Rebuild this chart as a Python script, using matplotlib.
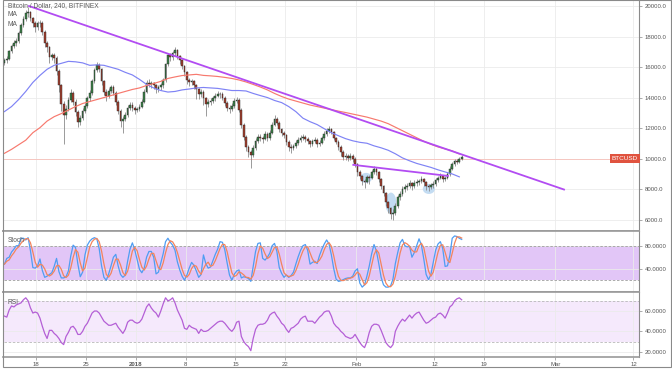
import numpy as np
import pandas as pd
import matplotlib
matplotlib.use("Agg")
import matplotlib.pyplot as plt
import matplotlib.dates as mdates
import matplotlib.transforms as mtransforms
from matplotlib.patches import Rectangle, Ellipse

W, H = 672, 372
plt.rcParams['font.family'] = ['Liberation Sans', 'DejaVu Sans']

# BTC/USD, Bitfinex, 8h candles
candle_start = "2017-12-13 12:00"
first_open = 16300
closes = [16450, 16510, 17040, 17370, 17570, 17700, 18220, 18750, 19150, 19540,
          19600, 19210, 18880, 18620, 18880, 18900, 18290, 17570, 17300, 16640,
          16780, 16580, 15720, 14800, 13620, 12890, 13290, 13880, 14340, 13750,
          13090, 12430, 12700, 13160, 13490, 13950, 14340, 15070, 15790, 16120,
          15860, 15070, 14400, 14080, 14470, 14670, 14340, 13750, 13160, 12500,
          12630, 12890, 13350, 13550, 13350, 13220, 13250, 13420, 13750, 14400,
          14990, 14870, 14930, 14800, 14600, 14670, 14800, 15130, 16180, 16780,
          16640, 16910, 17110, 16710, 16450, 16050, 15660, 15130, 15000, 15070,
          14800, 14540, 14210, 14400, 13950, 13620, 13750, 13810, 13950, 14140,
          14270, 14210, 14010, 13680, 13350, 13290, 13490, 13810, 13880, 13220,
          12240, 11450, 10790, 10460, 10260, 10720, 11180, 11450, 11380, 11310,
          11640, 11380, 11710, 12240, 12630, 12370, 11970, 11710, 11580, 11120,
          10790, 10720, 10850, 11050, 11250, 11380, 11420, 11310, 11180, 10990,
          11180, 11250, 10990, 11050, 11380, 11640, 11840, 11970, 11780, 11380,
          11120, 10790, 10460, 10130, 10200, 10070, 10200, 10000, 9670, 9140,
          8880, 8550, 8500, 8810, 8750, 9140, 9340, 9140, 8680, 8220,
          7760, 7170, 6770, 6380, 6450, 6910, 7500, 7700, 8030, 8160,
          8220, 8420, 8220, 8420, 8480, 8540, 8680, 8480, 8220, 8160,
          8290, 8350, 8620, 8750, 8880, 8680, 8750, 9010, 9340, 9670,
          9870, 9800, 10000, 10130]
highs = [16600, 16700, 17150, 17500, 17750, 17900, 18350, 18900, 19350, 19750,
         19950, 19700, 19300, 19000, 19050, 19100, 19000, 18400, 17700, 17400,
         16950, 16900, 16700, 15850, 14900, 13800, 13500, 14050, 14600, 14450,
         13900, 13200, 12900, 13300, 13650, 14100, 14500, 15250, 15950, 16350,
         16250, 15950, 15150, 14550, 14650, 14850, 14800, 14450, 13850, 13250,
         12800, 13050, 13500, 13750, 13700, 13450, 13400, 13600, 13900, 14550,
         15150, 15200, 15100, 15050, 14900, 14850, 14950, 15300, 16300, 16950,
         16900, 17050, 17300, 17200, 16800, 16550, 16150, 15750, 15300, 15250,
         15150, 14900, 14650, 14550, 14500, 14050, 13900, 14000, 14100, 14300,
         14450, 14400, 14350, 14100, 13800, 13500, 13650, 13950, 14050, 13950,
         13300, 12350, 11550, 10900, 10600, 10900, 11350, 11650, 11600, 11500,
         11800, 11750, 11900, 12400, 12850, 12750, 12450, 12050, 11800, 11650,
         11200, 10950, 11000, 11200, 11400, 11550, 11600, 11550, 11400, 11250,
         11300, 11400, 11350, 11200, 11500, 11800, 12000, 12150, 12050, 11850,
         11450, 11200, 10900, 10550, 10350, 10300, 10400, 10300, 10100, 9750,
         9250, 8950, 8700, 8950, 8950, 9300, 9500, 9450, 9200, 8750,
         8300, 7850, 7250, 6850, 6700, 7100, 7650, 7900, 8200, 8350,
         8400, 8600, 8500, 8600, 8650, 8700, 8850, 8750, 8550, 8350,
         8450, 8550, 8750, 8900, 9050, 8950, 8900, 9150, 9500, 9800,
         10000, 10000, 10150, 10250]
lows = [16150, 16300, 16450, 16950, 17250, 17400, 17600, 18100, 18650, 19050,
        19300, 19000, 18600, 18300, 18450, 18650, 18100, 17300, 17000, 16300,
        16450, 16300, 15500, 14400, 13100, 11000, 12600, 13100, 13700, 13500,
        12800, 12100, 12200, 12550, 13000, 13350, 13800, 14200, 14950, 15650,
        15650, 14850, 14200, 13800, 13950, 14300, 14150, 13550, 12950, 12100,
        11700, 12450, 12750, 13200, 13150, 12950, 13050, 13100, 13300, 13650,
        14300, 14700, 14650, 14550, 14300, 14400, 14500, 14650, 15050, 16050,
        16400, 16500, 16750, 16550, 16200, 15850, 15450, 14900, 14750, 14800,
        14600, 13900, 13900, 14050, 13500, 12800, 13400, 13500, 13650, 13800,
        14050, 14000, 13850, 13450, 13100, 13000, 13150, 13350, 13650, 13050,
        12050, 11200, 10500, 10100, 9400, 10100, 10600, 11050, 11150, 11050,
        11200, 11150, 11250, 11600, 12150, 12200, 11750, 11500, 11350, 10900,
        10500, 10350, 10550, 10700, 10900, 11100, 11200, 11100, 11000, 10750,
        10850, 11050, 10800, 10850, 10950, 11250, 11500, 11700, 11600, 11200,
        10950, 10600, 10200, 9950, 9900, 9850, 9950, 9800, 9450, 8900,
        8650, 8300, 8100, 8400, 8350, 8650, 9000, 8950, 8500, 8000,
        7550, 6900, 6450, 6050, 5980, 6350, 6800, 7300, 7550, 7850,
        7950, 8100, 7950, 8100, 8250, 8300, 8400, 8250, 7950, 7900,
        8000, 8100, 8250, 8500, 8650, 8500, 8550, 8650, 8900, 9250,
        9550, 9650, 9700, 9900]

# oscillators on the same 8h grid
stoch_k = [48, 58, 60, 69, 74, 80, 80, 93, 93, 90,
           94, 71, 42, 41, 45, 57, 37, 25, 27, 30,
           33, 44, 58, 35, 24, 24, 26, 36, 62, 81,
           77, 48, 26, 34, 64, 81, 88, 92, 94, 92,
           75, 45, 25, 20, 31, 45, 60, 65, 45, 30,
           25, 29, 53, 74, 85, 73, 56, 39, 33, 41,
           60, 70, 70, 60, 31, 34, 50, 66, 87, 93,
           86, 81, 72, 52, 38, 27, 20, 29, 41, 51,
           46, 36, 25, 30, 64, 49, 41, 43, 54, 65,
           74, 87, 86, 73, 50, 29, 20, 30, 36, 38,
           24, 26, 25, 23, 18, 44, 70, 84, 85, 58,
           55, 60, 67, 80, 84, 70, 42, 32, 25, 29,
           25, 28, 34, 48, 61, 72, 80, 82, 72, 48,
           51, 53, 49, 63, 74, 83, 90, 83, 64, 40,
           22, 18, 19, 21, 23, 24, 24, 27, 36, 40,
           15, 8, 12, 27, 45, 66, 82, 71, 49, 25,
           12, 8, 8, 10, 22, 49, 68, 85, 91, 80,
           78, 79, 60, 68, 80, 92, 81, 57, 30, 21,
           30, 51, 72, 83, 87, 75, 44, 45, 63, 93,
           97, 96, 93, 91]
rsi = [55, 54, 61, 65, 64, 66, 67, 68, 71, 73,
       70, 63, 58, 59, 58, 53, 45, 38, 33, 41,
       41, 38, 36, 33, 29, 27, 35, 39, 44, 45,
       42, 37, 37, 40, 45, 48, 53, 58, 60, 60,
       58, 54, 50, 48, 46, 46, 47, 48, 44, 41,
       38, 42, 49, 51, 51, 49, 48, 49, 52, 58,
       64, 67, 63, 60, 58, 54, 60, 67, 73, 70,
       71, 73, 68, 61, 56, 51, 43, 42, 46, 44,
       43, 42, 38, 42, 40, 40, 41, 43, 45, 47,
       49, 50, 50, 48, 45, 42, 40, 43, 49, 50,
       35, 30, 27, 25, 21, 33, 42, 46, 47, 47,
       48, 51, 56, 58, 59, 55, 52, 48, 46, 42,
       39, 43, 44, 46, 48, 52, 54, 55, 50, 50,
       50, 48, 51, 54, 56, 59, 60, 60, 55, 48,
       45, 43, 40, 38, 35, 34, 33, 34, 37, 33,
       29, 26, 24, 30, 39, 45, 47, 47, 46, 41,
       35, 29, 26, 24, 27, 40, 45, 49, 52, 50,
       53, 56, 53, 56, 58, 59, 55, 51, 48, 49,
       51, 53, 54, 57, 58, 56, 53, 58, 64, 66,
       70, 72, 73, 71]

# moving averages, one reading per day
ma_start = "2017-12-13 12:00"
ma_fast = [13090, 13420, 13880, 14410, 15000, 15460, 15860, 16120, 16250, 16380,
           16350, 16280, 16120, 16150, 16120, 15990, 15860, 15660, 15490, 15200,
           14870, 14640, 14470, 14370, 14410, 14510, 14570, 14640, 14670, 14640,
           14610, 14540, 14470, 14470, 14440, 14280, 14140, 14010, 13820, 13680,
           13420, 13090, 12660, 12430, 12240, 11970, 11710, 11510, 11320, 11180,
           11080, 11020, 10850, 10720, 10560, 10330, 10060, 9870, 9700, 9570,
           9440, 9280, 9140, 9010, 8820]
ma_slow = [10360, 10620, 10920, 11220, 11710, 12040, 12470, 12760, 12960, 13190,
           13420, 13620, 13750, 13880, 14010, 14140, 14280, 14410, 14540, 14640,
           14800, 14930, 15070, 15260, 15360, 15450, 15490, 15530, 15460, 15430,
           15390, 15330, 15260, 15160, 15030, 14870, 14700, 14510, 14280, 14080,
           13910, 13780, 13650, 13520, 13420, 13320, 13220, 13120, 13030, 12930,
           12830, 12730, 12600, 12470, 12300, 12070, 11840, 11610, 11380, 11150,
           10950, 10780, 10650, 10520, 10320]

# drawn trendlines and marked troughs
trend_dates = ["2017-12-16 23:00", "2018-03-02 05:30"]
trend_prices = [20000, 7990]
neck_dates = ["2018-01-31 14:00", "2018-02-13 21:30"]
neck_prices = [9605, 8882]
trough_dates = ["2018-02-02 09:00", "2018-02-05 21:00", "2018-02-11 05:00"]
trough_prices = [8750, 7100, 8030]
trough_w = [1.7, 1.55, 1.7]
trough_h = [660, 1380, 660]
last_price_level = 10000

price_ticks = [6000, 8000, 10000, 12000, 14000, 16000, 18000, 20000]
stoch_ticks = [40, 80]
rsi_ticks = [20, 40, 60]
date_ticks = ["2017-12-18", "2017-12-25", "2018-01-01", "2018-01-08", "2018-01-15",
              "2018-01-22", "2018-02-01", "2018-02-12", "2018-02-19", "2018-03-01",
              "2018-03-12"]
date_labels = ["18", "25", "2018", "8", "15", "22", "Feb", "12", "19", "Mar", "12"]


def box(left, top, right, bottom):
    return [left / W, 1 - bottom / H, (right - left) / W, (bottom - top) / H]


fig = plt.figure(figsize=(W / 100, H / 100), dpi=100)
ax_p = fig.add_axes(box(3.5, 0, 639, 231))
ax_s = fig.add_axes(box(3.5, 231, 639, 292), sharex=ax_p)
ax_r = fig.add_axes(box(3.5, 292, 639, 357), sharex=ax_p)

t = mdates.date2num(pd.date_range(candle_start, periods=len(closes), freq="8h"))
c = np.array(closes, dtype=float)
o = np.r_[first_open, c[:-1]]
up = c >= o

# candles
ax_p.vlines(t, lows, highs, color="#8a8a8a", lw=0.6, zorder=3)
ax_p.bar(t, np.abs(c - o), bottom=np.minimum(o, c), width=0.24,
         color=np.where(up, "#3c8249", "#a33e2d"), edgecolor="#262626",
         linewidth=0.3, zorder=4)

tm = mdates.date2num(pd.date_range(ma_start, periods=len(ma_fast), freq="D"))
ax_p.plot(tm, ma_fast, color="#7f83f5", lw=0.85, zorder=5)
ax_p.plot(tm, ma_slow, color="#f7796e", lw=0.85, zorder=5)

ax_p.axhline(last_price_level, color="#f7c0b9", lw=0.6, zorder=1.5)
ax_p.plot(mdates.date2num(pd.to_datetime(trend_dates)), trend_prices,
          color="#b24cf2", lw=1.3, zorder=6)
ax_p.plot(mdates.date2num(pd.to_datetime(neck_dates)), neck_prices,
          color="#b24cf2", lw=1.3, zorder=6)
for d, p, ew, eh in zip(trough_dates, trough_prices, trough_w, trough_h):
    ax_p.add_patch(Ellipse((mdates.date2num(pd.Timestamp(d)), p), ew, eh,
                           fc="#b9d6f0", ec="none", alpha=0.85, zorder=2))

trans = mtransforms.blended_transform_factory(ax_p.transAxes, ax_p.transData)
ax_p.text(0.998, last_price_level, "BTCUSD", transform=trans, ha="right", va="center",
          fontsize=4.6, color="white", zorder=8,
          bbox=dict(boxstyle="square,pad=0.3", fc="#e0533f", ec="none"))

# stochastic
k = pd.Series(stoch_k, dtype=float)
ax_s.axhspan(20, 80, color="#e2c6f7", lw=0, zorder=0)
ax_s.axhline(80, color="#9e9e9e", lw=0.6, ls=(0, (3, 2)), zorder=1)
ax_s.axhline(20, color="#9e9e9e", lw=0.6, ls=(0, (3, 2)), zorder=1)
ax_s.plot(t, k, color="#4f9df2", lw=0.9, zorder=3)
ax_s.plot(t, k.rolling(3, min_periods=1).mean(), color="#f3845d", lw=0.9, zorder=4)

# rsi
ax_r.axhspan(30, 70, color="#f5e9fc", lw=0, zorder=0)
ax_r.axhline(70, color="#b8b8b8", lw=0.6, ls=(0, (3, 2)), zorder=1)
ax_r.axhline(30, color="#b8b8b8", lw=0.6, ls=(0, (3, 2)), zorder=1)
ax_r.plot(t, rsi, color="#b45fd6", lw=0.9, zorder=3)

base = mdates.date2num(pd.Timestamp("2017-12-18"))
ax_p.set_xlim(base - 4.63, base + 84.78)
ax_p.set_ylim(5276, 20395)
ax_s.set_ylim(-0.5, 105.6)
ax_r.set_ylim(14.8, 78.7)

ax_r.set_xticks(mdates.date2num(pd.to_datetime(date_ticks)))
ax_r.set_xticklabels(date_labels)
ax_r.get_xticklabels()[2].set_fontweight("bold")

ax_p.set_yticks(price_ticks)
ax_p.set_yticklabels([f"{v:.1f}" for v in price_ticks])
ax_s.set_yticks(stoch_ticks)
ax_s.set_yticklabels([f"{v:.4f}" for v in stoch_ticks])
ax_r.set_yticks(rsi_ticks)
ax_r.set_yticklabels([f"{v:.4f}" for v in rsi_ticks])

for ax in (ax_p, ax_s, ax_r):
    ax.set_facecolor("white")
    ax.yaxis.tick_right()
    ax.tick_params(axis="y", labelsize=4.3, labelcolor="#555555", color="#8a8a8a",
                   length=2.5, width=0.5, pad=1.5)
    ax.tick_params(axis="x", labelsize=4.3, labelcolor="#555555", color="#8a8a8a",
                   length=2, width=0.5, pad=1.5)
    ax.grid(True, color="#ebebeb", lw=0.6, zorder=0)
    ax.set_axisbelow(True)
    ax.spines["left"].set_visible(False)
    ax.spines["right"].set_color("#8a8a8a")
    ax.spines["right"].set_linewidth(0.8)
    ax.spines["top"].set_color("#9a9a9a")
    ax.spines["top"].set_linewidth(1.2)
    ax.spines["bottom"].set_color("#9a9a9a")
    ax.spines["bottom"].set_linewidth(1.2)
ax_p.spines["top"].set_visible(False)
for ax in (ax_p, ax_s):
    ax.tick_params(axis="x", labelbottom=False, bottom=False)

# chart frame
fig.add_artist(Rectangle((3 / W, 1 - 367 / H), 668 / W, 367 / H, transform=fig.transFigure,
                         fill=False, ec="#8a8a8a", lw=0.8))


def label(x, y, s):
    fig.text(x / W, 1 - y / H, s, fontsize=4.8, color="#5a5a5a", va="center", ha="left")


label(8, 5.5, "Bitcoin / Dollar, 240, BITFINEX")
label(8, 15, "MA")
label(8, 24.5, "MA")
label(8, 240, "Stoch")
label(8, 302, "RSI")

fig.savefig("out.png", dpi=100)
